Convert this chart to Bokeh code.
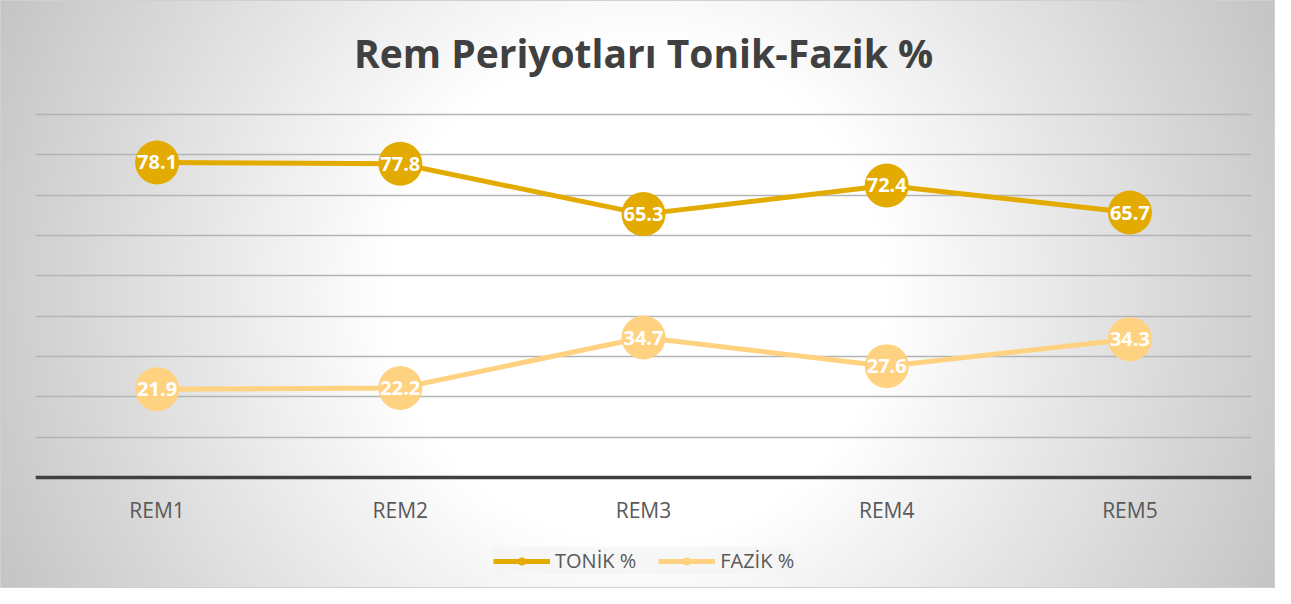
from bokeh.plotting import figure
from bokeh.models import FactorRange, SingleIntervalTicker, Legend, Label, ColumnDataSource, Range1d
from bokeh.core.properties import value
from bokeh.embed import file_html
from bokeh.resources import INLINE

categories = ["REM1", "REM2", "REM3", "REM4", "REM5"]
tonik = [78.1, 77.8, 65.3, 72.4, 65.7]
fazik = [21.9, 22.2, 34.7, 27.6, 34.3]
series_names = ["TONİK %", "FAZİK %"]
title_text = "Rem Periyotları Tonik-Fazik %"

TONIK_COLOR = "#E3AA00"
FAZIK_COLOR = "#FFD281"

# layout (pixels): figure height, y pixel of value 0 and of value 90
H = 588
Y0_PX, Y90_PX = 477, 114
k = (Y0_PX - Y90_PX) / 90.0          # px per unit
y_top = Y0_PX / k
y_bot = -(H - Y0_PX) / k

p = figure(
    width=1275, height=H,
    x_range=FactorRange(factors=categories, range_padding=0),
    y_range=Range1d(y_bot, y_top),
    output_backend="svg", toolbar_location=None,
    min_border_left=35, min_border_right=24, min_border_top=0, min_border_bottom=0,
)
p.styles = {
    "background": "radial-gradient(circle farthest-corner at 50% 50%, #ffffff 35%, #c4c4c4 100%)",
    "outline": "1px solid #d0d0d0",
    "outline-offset": "-1px",
}
p.border_fill_alpha = 0
p.background_fill_alpha = 0
p.outline_line_color = None

title = Label(x=2.5, y=(Y0_PX - 52) / k, text=title_text, text_align="center", text_baseline="middle",
              text_font="Open Sans", text_font_size="39px", text_font_style="bold", text_color="#404040")
p.add_layout(title)

p.yaxis.visible = False
p.ygrid.ticker = SingleIntervalTicker(interval=10)
p.ygrid.bounds = (0, 90)
p.ygrid.grid_line_color = "#b4b4b4"
p.ygrid.grid_line_width = 1.5
p.xgrid.grid_line_color = None

ax = p.xaxis[0]
ax.fixed_location = 0
ax.axis_line_color = "#404040"
ax.axis_line_width = 3.5
ax.major_tick_line_color = None
ax.minor_tick_line_color = None
ax.major_label_standoff = 12
ax.major_label_text_font = "Open Sans"
ax.major_label_text_font_size = "21px"
ax.major_label_text_color = "#595959"

src = ColumnDataSource(data=dict(
    cat=categories, tonik=tonik, fazik=fazik,
    tonik_lbl=[f"{v:.1f}" for v in tonik], fazik_lbl=[f"{v:.1f}" for v in fazik],
))

r1 = p.line("cat", "tonik", source=src, line_color=TONIK_COLOR, line_width=5)
m1 = p.scatter("cat", "tonik", source=src, size=44, fill_color=TONIK_COLOR, line_color=None)
r2 = p.line("cat", "fazik", source=src, line_color=FAZIK_COLOR, line_width=5)
m2 = p.scatter("cat", "fazik", source=src, size=44, fill_color=FAZIK_COLOR, line_color=None)

for col in ["tonik", "fazik"]:
    p.text("cat", col, text=col + "_lbl", source=src, text_color="white",
           text_font=value("Open Sans"), text_font_style="bold", text_font_size="20px",
           text_align="center", text_baseline="middle")

legend = Legend(items=[(series_names[0], [r1, m1]), (series_names[1], [r2, m2])],
                orientation="horizontal", location=(458, 14),
                label_text_font="Open Sans", label_text_font_size="20px", label_text_color="#595959",
                background_fill_color="#f4f4f4", background_fill_alpha=0.7,
                border_line_color=None, glyph_width=57, glyph_height=20,
                spacing=22, padding=12, margin=0, label_standoff=5)
p.add_layout(legend, "center")

open("out.html", "w").write(file_html(p, INLINE))
